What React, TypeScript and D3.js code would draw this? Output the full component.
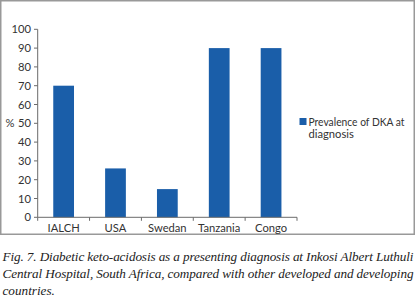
import React from "react";
import * as d3 from "d3";

const categories = ["IALCH", "USA", "Swedan", "Tanzania", "Congo"];
const prevalence = [70, 26, 15, 90, 90];
const yTicks = [0, 10, 20, 30, 40, 50, 60, 70, 80, 90, 100];
const legendLines = ["Prevalence of DKA at", "diagnosis"];
const captionLines = [
  "Fig. 7. Diabetic keto-acidosis as a presenting diagnosis at Inkosi Albert Luthuli",
  "Central Hospital, South Africa, compared with other developed and developing",
  "countries.",
];

const W = 416;
const H = 297;
const BAR = "#1a5ea9";
const AXIS = "#6b6b6b";
const TXT = "#333333";
const SANS = "'Lato', 'Noto Sans', sans-serif";
const FS = 11.2;

export default function App() {
  const x = d3.scaleBand<string>().domain(categories).range([37.7, 297]).paddingInner(0.6).paddingOuter(0.3);
  const xb = d3.scaleBand<string>().domain(categories).range([37.7, 297]);
  const y = d3.scaleLinear().domain([0, 100]).range([217.3, 29.3]);

  return (
    <svg width={W} height={H} style={{ position: "fixed", left: 0, top: 0, background: "#fff" }}>
      <rect x={0.75} y={0.75} width={413.5} height={233.5} fill="none" stroke="#999" strokeWidth={1.5} />
      {/* bars */}
      {categories.map((c, i) => (
        <rect key={c} x={x(c)} y={y(prevalence[i])} width={x.bandwidth()} height={y(0) - y(prevalence[i])} fill={BAR} />
      ))}
      {/* y axis */}
      <line x1={37.7} x2={37.7} y1={y(100)} y2={y(0)} stroke={AXIS} strokeWidth={1} />
      {yTicks.map((t) => (
        <g key={t}>
          <line x1={34} x2={37.7} y1={y(t)} y2={y(t)} stroke={AXIS} strokeWidth={1} />
          <text x={31} y={y(t)} dy="0.36em" textAnchor="end" fontFamily={SANS} fontSize={FS} fill={TXT}>
            {t}
          </text>
        </g>
      ))}
      <text x={5.5} y={y(50)} dy="0.36em" fontFamily={SANS} fontSize={FS} fill={TXT}>%</text>
      {/* x axis */}
      <line x1={37.7} x2={297} y1={y(0)} y2={y(0)} stroke={AXIS} strokeWidth={1} />
      {categories.map((c) => (
        <line key={c + "t"} x1={xb(c)} x2={xb(c)} y1={y(0)} y2={y(0) + 3.5} stroke={AXIS} strokeWidth={1} />
      ))}
      <line x1={297} x2={297} y1={y(0)} y2={y(0) + 3.5} stroke={AXIS} strokeWidth={1} />
      {categories.map((c) => (
        <text key={c + "l"} x={xb(c)! + xb.bandwidth() / 2} y={231.5} textAnchor="middle" fontFamily={SANS} fontSize={FS} fill={TXT}>
          {c}
        </text>
      ))}
      {/* legend */}
      <rect x={299.5} y={118} width={7} height={7} fill={BAR} />
      {legendLines.map((l, i) => (
        <text
          key={l}
          x={308.5}
          y={125.5 + i * 12.5}
          fontFamily={SANS}
          fontSize={FS}
          fill={TXT}
          {...(i === 0 ? { textLength: 96, lengthAdjust: "spacingAndGlyphs" } : {})}
        >
          {l}
        </text>
      ))}
      {/* caption */}
      {captionLines.map((l, i) => (
        <text
          key={i}
          x={2.5}
          y={[261, 278.3, 294.5][i]}
          fontFamily="'Liberation Serif', 'DejaVu Serif', serif"
          fontStyle="italic"
          fontSize={13.2}
          fill="#222"
          {...(i < 2 ? { textLength: 411, lengthAdjust: "spacing" } : {})}
        >
          {l}
        </text>
      ))}
    </svg>
  );
}
